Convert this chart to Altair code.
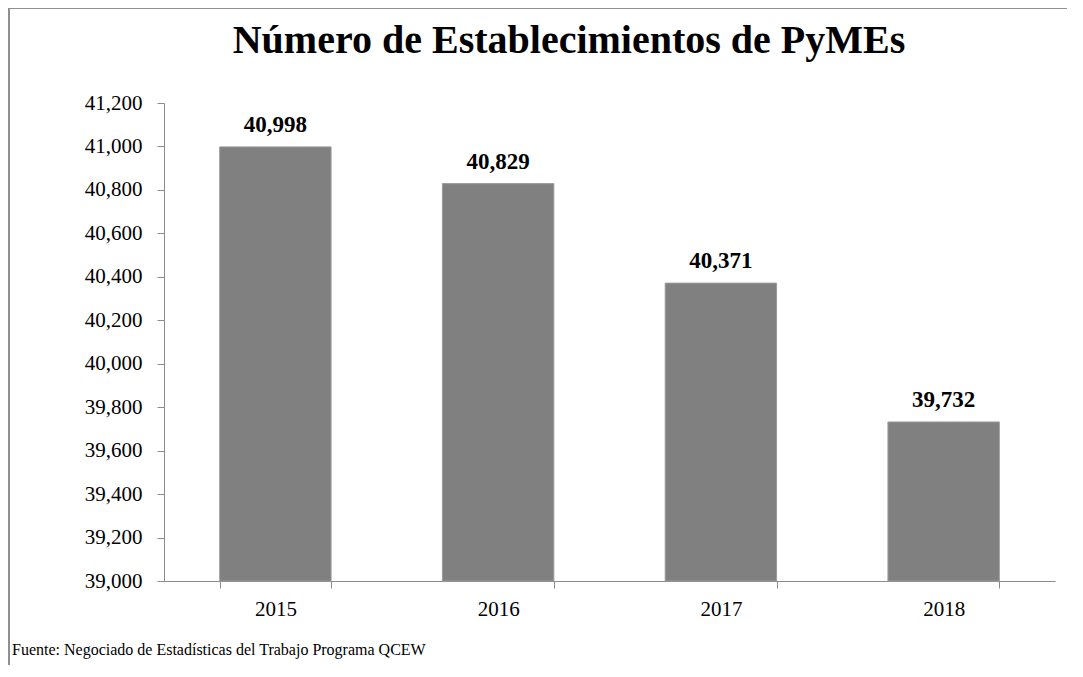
import altair as alt
import pandas as pd

years = ["2015", "2016", "2017", "2018"]
values = [40998, 40829, 40371, 39732]
y_ticks = [39000, 39200, 39400, 39600, 39800, 40000, 40200, 40400, 40600, 40800, 41000, 41200]
title_text = "Número de Establecimientos de PyMEs"
source_text = "Fuente: Negociado de Estadísticas del Trabajo Programa QCEW"

df = pd.DataFrame({"year": years, "value": values})

FONT = "Liberation Serif"
AXC = "#8c8c8c"

x_enc = alt.X("year:N", title=None, sort=years,
              scale=alt.Scale(paddingInner=0.5, paddingOuter=0.25),
              axis=alt.Axis(labelAngle=0, labelFont=FONT, labelFontSize=21, labelColor="black",
                            tickBand="extent", tickSize=7, tickColor=AXC, domainColor=AXC,
                            labelPadding=10))
y_enc = alt.Y("value:Q", title=None,
              scale=alt.Scale(domain=[39000, 41200], zero=False, nice=False),
              axis=alt.Axis(values=y_ticks, format=",d", labelFont=FONT, labelFontSize=21,
                            labelColor="black", tickSize=7, tickColor=AXC, domainColor=AXC,
                            labelPadding=15, grid=False))

base = alt.Chart(df)

bars = base.mark_bar(color="#808080", stroke="#9a9a9a", strokeWidth=1).encode(
    x=x_enc, y=y_enc, y2=alt.datum(39000)
)

labels = base.mark_text(font=FONT, fontSize=23, fontWeight="bold", color="black",
                        baseline="alphabetic", dy=-15).encode(
    x=alt.X("year:N", sort=years), y="value:Q", text=alt.Text("value:Q", format=",d")
)

title = alt.Chart(pd.DataFrame({"t": [title_text]})).mark_text(
    font=FONT, fontSize=40, fontWeight="bold", color="black", baseline="alphabetic", align="center"
).encode(x=alt.value(405), y=alt.value(-50), text="t:N")

source = alt.Chart(pd.DataFrame({"t": [source_text]})).mark_text(
    font=FONT, fontSize=16, color="black", baseline="alphabetic", align="left"
).encode(x=alt.value(-152), y=alt.value(552), text="t:N")

border = alt.Chart(pd.DataFrame({"a": [0]})).mark_rect(
    fill=None, filled=False, stroke="#8f8f8f", strokeWidth=2
).encode(x=alt.value(-155), x2=alt.value(1000), y=alt.value(-95), y2=alt.value(700))

chart = alt.layer(border, bars, labels, title, source).properties(
    width=891, height=478,
    autosize=alt.AutoSizeParams(type="none"),
    padding={"left": 156, "top": 95, "right": 12, "bottom": 84},
).configure_view(stroke=None)

chart.save("out.html", embed_options={"renderer": "svg", "actions": False})
